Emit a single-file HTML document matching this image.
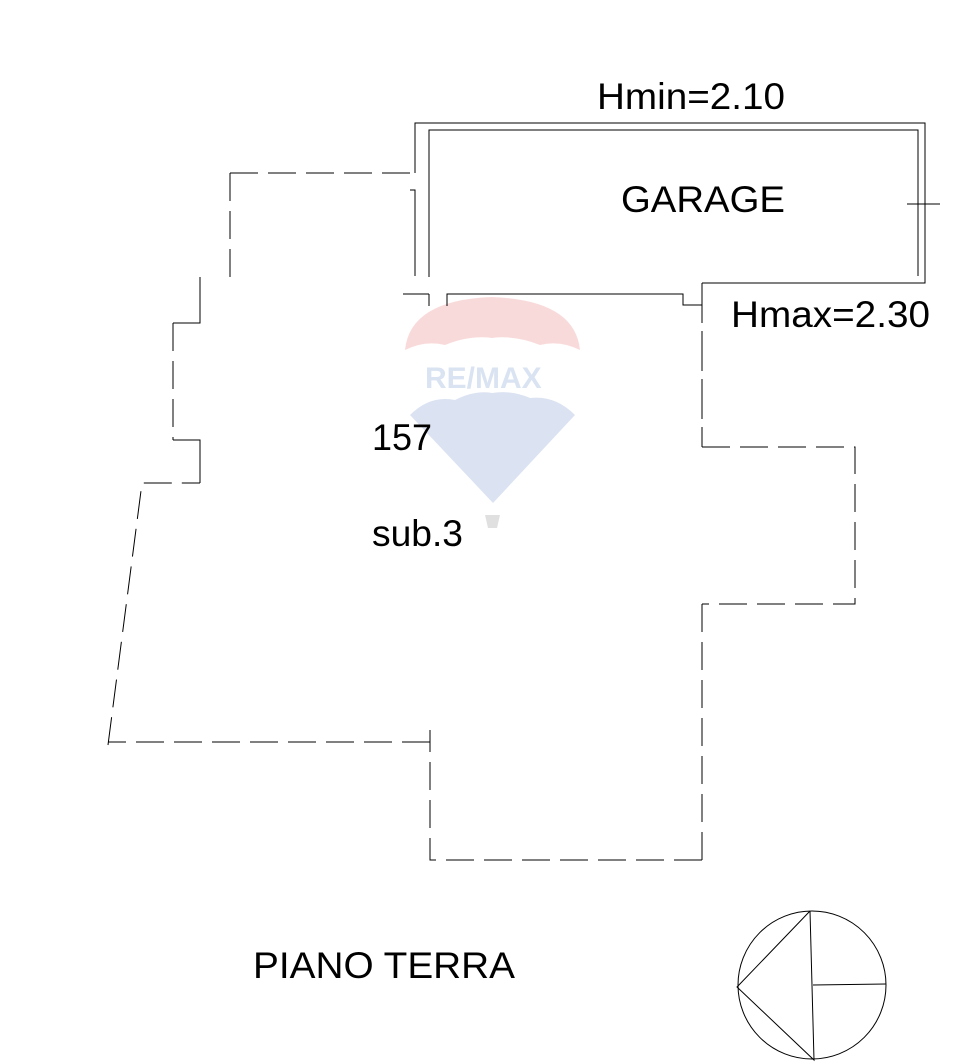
<!DOCTYPE html>
<html><head><meta charset="utf-8"><style>
html,body{margin:0;padding:0;background:#fff;}
svg{display:block;}
text{font-family:"Liberation Sans",sans-serif;fill:#000;}
</style></head><body>
<svg width="976" height="1064" viewBox="0 0 976 1064" xmlns="http://www.w3.org/2000/svg">
<!-- watermark -->
<g opacity="0.3">
<path d="M405,350 Q410,300 492,297 Q575,300 580,350 Q560,340 540,345 Q515,335 492,338 Q470,335 445,345 Q425,340 405,350 Z" fill="#e88"/>
<text x="425" y="388" font-size="30" font-weight="bold" style="fill:#88a6d6">RE/MAX</text>
<path d="M410,415 Q430,395 455,400 Q475,390 492,393 Q512,390 530,398 Q555,395 575,415 L493,503 Z" fill="#8aa3d4"/>
<path d="M485,515 L500,515 L497,528 L488,528 Z" fill="#999"/>
</g>
<g stroke="#000" stroke-width="1" fill="none">
<polyline points="415,173 415,123 925,123 925,283 702,283"/>
<polyline points="429,277 429,130 918,130 918,276"/>
<line x1="907" y1="204" x2="940" y2="204"/>
<polyline points="410,190 415,190 415,276"/>
<line x1="403" y1="294" x2="429" y2="294"/>
<line x1="429" y1="294" x2="429" y2="306"/>
<polyline points="447,306 447,294 683,294 683,305 702,305"/>
<line x1="702" y1="283" x2="702" y2="447" stroke-dasharray="40,8"/>
<g stroke-dasharray="28,10">
<polyline points="702,447 855,447 855,604 702,604"/>
<line x1="702" y1="604" x2="702" y2="860"/>
<polyline points="702,860 430,860 430,730"/>
<line x1="430" y1="742" x2="108" y2="742"/>
<polyline points="108,745 142,483 200,483"/>
<line x1="230" y1="277" x2="230" y2="173"/>
<line x1="230" y1="173" x2="415" y2="173"/>
<line x1="173" y1="323" x2="173" y2="440"/>
</g>
<polyline points="200,277 200,323 173,323"/>
<polyline points="173,440 200,440 200,483"/>
<circle cx="812" cy="985" r="74"/>
<polyline points="810,911 737,987 814,1060 810,911"/>
<line x1="813" y1="985" x2="886" y2="984"/>
</g>
<text x="597" y="109" font-size="37" textLength="188" lengthAdjust="spacingAndGlyphs">Hmin=2.10</text>
<text x="621" y="212" font-size="37" textLength="164" lengthAdjust="spacingAndGlyphs">GARAGE</text>
<text x="731" y="327" font-size="37" textLength="199" lengthAdjust="spacingAndGlyphs">Hmax=2.30</text>
<text x="372" y="450" font-size="37" textLength="60" lengthAdjust="spacingAndGlyphs">157</text>
<text x="372" y="546" font-size="37" textLength="91" lengthAdjust="spacingAndGlyphs">sub.3</text>
<text x="253" y="978" font-size="37" textLength="262" lengthAdjust="spacingAndGlyphs">PIANO TERRA</text>
</svg>
</body></html>
